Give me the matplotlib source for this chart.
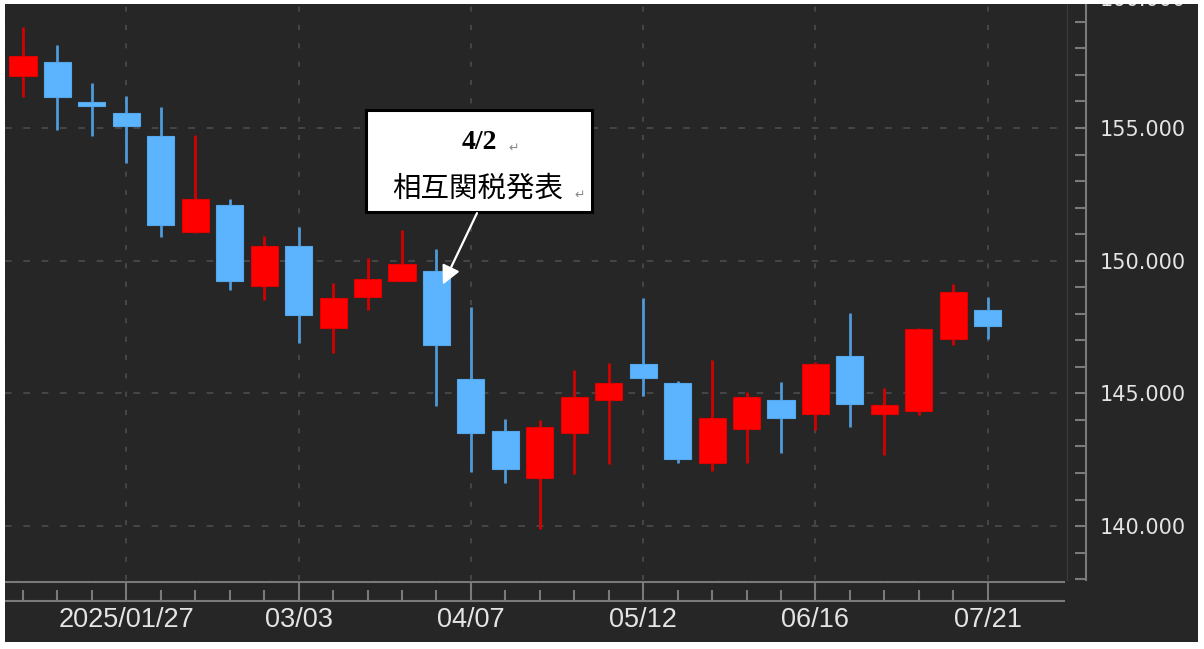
## Weekly USD/JPY candlesticks, Jan - Jul 2025, with the 4/2 tariff note

import matplotlib
matplotlib.use('Agg')
import matplotlib.pyplot as plt
import matplotlib.dates as mdates
from matplotlib.patches import Rectangle
from matplotlib.ticker import MultipleLocator, FixedLocator, FixedFormatter
import numpy as np
import pandas as pd


## Data

weeks = ['2025-01-06', '2025-01-13', '2025-01-20', '2025-01-27', '2025-02-03',
         '2025-02-10', '2025-02-17', '2025-02-24', '2025-03-03', '2025-03-10',
         '2025-03-17', '2025-03-24', '2025-03-31', '2025-04-07', '2025-04-14',
         '2025-04-21', '2025-04-28', '2025-05-05', '2025-05-12', '2025-05-19',
         '2025-05-26', '2025-06-02', '2025-06-09', '2025-06-16', '2025-06-23',
         '2025-06-30', '2025-07-07', '2025-07-14', '2025-07-21']
opens = [156.97, 157.50, 155.99, 155.58, 154.70, 151.07, 152.10, 149.06, 150.55, 147.48,
         148.64, 149.25, 149.61, 145.54, 143.58, 141.80, 143.50, 144.75, 146.11, 145.40,
         142.37, 143.66, 144.75, 144.22, 146.41, 144.22, 144.34, 147.05, 148.14]
highs = [158.82, 158.13, 156.68, 156.21, 155.80, 154.74, 152.32, 150.93, 151.26, 149.15,
         150.09, 151.16, 150.43, 148.24, 144.04, 144.00, 145.88, 146.16, 148.61, 145.48,
         146.26, 145.06, 145.44, 146.19, 148.02, 145.19, 147.45, 149.12, 148.62]
lows = [156.18, 154.92, 154.70, 153.67, 150.88, 151.05, 148.90, 148.52, 146.91, 146.51,
        148.14, 149.23, 144.53, 142.05, 141.61, 139.88, 141.96, 142.34, 144.90, 142.39,
        142.09, 142.37, 142.77, 143.62, 143.75, 142.68, 144.19, 146.82, 147.04]
closes = [157.71, 156.18, 155.83, 155.09, 151.35, 152.32, 149.25, 150.55, 147.95, 148.61,
          149.31, 149.86, 146.82, 143.52, 142.14, 143.72, 144.85, 145.38, 145.57, 142.52,
          144.06, 144.88, 144.06, 146.10, 144.60, 144.56, 147.41, 148.81, 147.54]

tick_dates = ['2025-01-27', '2025-03-03', '2025-04-07', '2025-05-12', '2025-06-16', '2025-07-21']
tick_labels = ['2025/01/27', '03/03', '04/07', '05/12', '06/16', '07/21']

note_title = '4/2'
note_text = '相互関税発表'
note_date = '2025-03-31'


## Colours / layout

BG = '#262626'
UP = '#ff0000'
DOWN = '#5cb4ff'
UP_WICK = '#d40000'
DOWN_WICK = '#4f9ad8'
GRID = '#4c4c4c'
AXIS = '#7a7a7a'
W, H = 1204, 649

def fx(px):
    return px / W

def fy(py):
    return 1 - py / H


x = mdates.date2num(pd.to_datetime(weeks))
xt = mdates.date2num(pd.to_datetime(tick_dates))
o = np.array(opens)
c = np.array(closes)
up = c >= o

fig = plt.figure(figsize=(W / 100, H / 100), dpi=100, facecolor=BG)

ax = fig.add_axes([fx(5), fy(580), fx(1064) - fx(5), fy(4) - fy(580)])
ax.set_facecolor(BG)
for s in ax.spines.values():
    s.set_visible(False)
ax.set_xlim(x[0] - 3.66, x[0] + 211.5)
ax.set_ylim(137.97, 159.67)
ax.set_xticks(xt)
ax.yaxis.set_major_locator(MultipleLocator(5))
ax.tick_params(left=False, bottom=False, labelleft=False, labelbottom=False)
ax.grid(axis='y', color=GRID, linestyle=(0, (4, 7)), linewidth=1.2)
ax.grid(axis='x', color=GRID, linestyle=(0, (3, 8)), linewidth=1.2)
ax.set_axisbelow(True)


## Candles

body_w = 5.5
ax.vlines(x[up], np.array(lows)[up], np.array(highs)[up], color=UP_WICK, linewidth=2, zorder=2)
ax.vlines(x[~up], np.array(lows)[~up], np.array(highs)[~up], color=DOWN_WICK, linewidth=2, zorder=2)
ax.bar(x[up], c[up] - o[up], bottom=o[up], width=body_w, color=UP, edgecolor='#e00000',
       linewidth=0.8, zorder=3)
hgt = np.where(np.abs(c - o) < 0.12, -0.12, c - o)
ax.bar(x[~up], hgt[~up], bottom=o[~up], width=body_w, color=DOWN, edgecolor='#55a8ee',
       linewidth=0.8, zorder=3)


## Annotation box + arrow

ax.add_patch(Rectangle((0.3409, 0.639), 0.2134, 0.177, transform=ax.transAxes,
                       facecolor='white', edgecolor='black', linewidth=2.2, zorder=5))
ax.text(0.448, 0.76, note_title, transform=ax.transAxes, ha='center', va='center',
        family='Liberation Serif', fontweight='bold', fontsize=20, color='black', zorder=6)
ax.text(0.475, 0.75, '↵', transform=ax.transAxes, ha='left', va='center',
        fontsize=9, color='#888888', zorder=6)
ax.text(0.446, 0.68, note_text, transform=ax.transAxes, ha='center', va='center',
        family=['Noto Sans CJK JP', 'DejaVu Sans'], fontsize=20.5, color='black', zorder=6)
ax.text(0.538, 0.668, '↵', transform=ax.transAxes, ha='left', va='center',
        fontsize=9, color='#888888', zorder=6)
tip_x = mdates.date2num(pd.to_datetime(note_date)) + 1.3
ax.annotate('', xy=(tip_x, 149.1), xycoords='data',
            xytext=(0.4457, 0.637), textcoords='axes fraction',
            arrowprops=dict(arrowstyle='-|>', color='white', lw=1.6, mutation_scale=28,
                            shrinkA=0, shrinkB=0), zorder=6)


## Right price axis

ay = fig.add_axes([fx(1067), fy(580), fx(1086) - fx(1067), fy(4) - fy(580)], sharey=ax)
ay.set_facecolor(BG)
ay.patch.set_alpha(0)
for k in ['top', 'bottom']:
    ay.spines[k].set_visible(False)
ay.spines['left'].set_color('#3c3c3c')
ay.spines['right'].set_color(AXIS)
ay.spines['right'].set_linewidth(1.5)
ay.set_xticks([])
ay.yaxis.tick_right()
ay.yaxis.set_major_locator(MultipleLocator(5))
ay.yaxis.set_minor_locator(MultipleLocator(1))
ay.yaxis.set_major_formatter(plt.FuncFormatter(lambda v, p: f'{v:.3f}'))
ay.tick_params(axis='y', which='both', direction='in', length=8, width=1.5, color=AXIS,
               left=False, right=True, labelleft=False, labelright=True,
               labelsize=15, labelcolor='#e4e4e4', pad=10)
# top label is cut by the frame in the original screenshot
fig.text(fx(1100), fy(0.5), '160.000', ha='left', va='center', fontsize=15, color='#e4e4e4')


## Bottom date axis

axx = fig.add_axes([fx(5), fy(601), fx(1064) - fx(5), fy(581.5) - fy(601)], sharex=ax)
axx.set_facecolor(BG)
for k in ['left', 'right']:
    axx.spines[k].set_visible(False)
for k in ['top', 'bottom']:
    axx.spines[k].set_color(AXIS)
    axx.spines[k].set_linewidth(1.5)
axx.set_yticks([])
axx.xaxis.set_major_locator(FixedLocator(xt))
axx.xaxis.set_major_formatter(FixedFormatter(tick_labels))
axx.xaxis.set_minor_locator(FixedLocator(x))
axx.tick_params(axis='x', which='major', direction='in', length=14, width=1.5, color=AXIS,
                labelsize=19.5, labelcolor='#e4e4e4', pad=4)
axx.tick_params(axis='x', which='minor', direction='in', length=8, width=1.5, color=AXIS)
for t in axx.get_xticklabels():
    t.set_family('Liberation Sans')


## White frame round the screenshot

for r in [(0, 0, fx(5), 1), (0, fy(4), 1, 1 - fy(4)), (fx(1198), 0, 1 - fx(1198), 1),
          (0, 0, 1, fy(642))]:
    fig.patches.append(Rectangle((r[0], r[1]), r[2], r[3], transform=fig.transFigure,
                                 facecolor='white', edgecolor='none', zorder=10))

fig.savefig('out.png', dpi=100, facecolor=BG)
